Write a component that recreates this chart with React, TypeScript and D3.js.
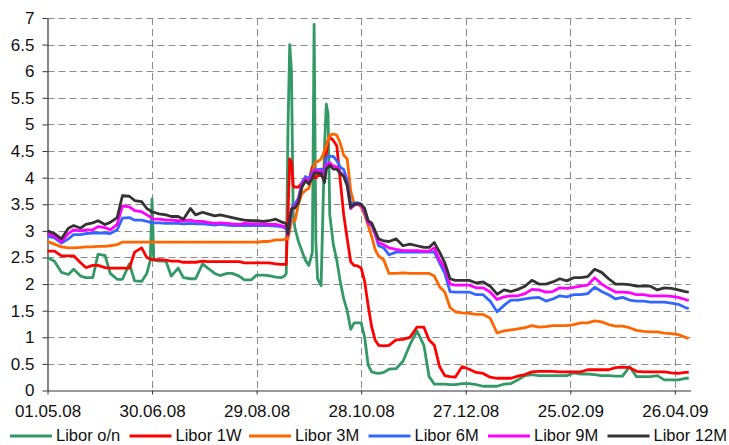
import * as React from 'react';
import { useEffect, useRef } from 'react';
import * as d3 from 'd3';

const WIDTH = 729;
const HEIGHT = 445;
const MARGINS = { top: 18, left: 47.5, bottom: 54.5, right: 38.5 };

// sample dates (dd.mm.yy), denser around the September/October 2008 spikes
const dates = [
    '01.05.08', '05.05.08', '09.05.08', '13.05.08', '16.05.08', '20.05.08', '23.05.08', '27.05.08', '30.05.08', '03.06.08',
    '06.06.08', '10.06.08', '13.06.08', '17.06.08', '20.06.08', '24.06.08', '27.06.08', '29.06.08', '30.06.08', '01.07.08',
    '04.07.08', '08.07.08', '11.07.08', '15.07.08', '18.07.08', '22.07.08', '25.07.08', '29.07.08', '01.08.08', '05.08.08',
    '08.08.08', '12.08.08', '15.08.08', '19.08.08', '22.08.08', '26.08.08', '29.08.08', '02.09.08', '05.09.08', '09.09.08',
    '12.09.08', '14.09.08',
    '15.09.08', '16.09.08', '17.09.08', '18.09.08', '19.09.08', '20.09.08', '22.09.08', '24.09.08', '26.09.08', '28.09.08',
    '30.09.08', '01.10.08', '02.10.08', '03.10.08', '05.10.08', '07.10.08', '08.10.08', '09.10.08', '10.10.08', '12.10.08',
    '14.10.08', '16.10.08', '18.10.08', '20.10.08', '22.10.08', '24.10.08', '26.10.08', '28.10.08', '30.10.08', '01.11.08',
    '03.11.08', '05.11.08', '07.11.08', '10.11.08',
    '13.11.08', '17.11.08', '21.11.08', '25.11.08', '29.11.08', '03.12.08', '06.12.08', '09.12.08', '12.12.08', '15.12.08',
    '18.12.08', '21.12.08', '25.12.08', '29.12.08', '02.01.09', '06.01.09', '10.01.09', '14.01.09', '18.01.09', '22.01.09',
    '26.01.09', '30.01.09', '03.02.09', '07.02.09', '11.02.09', '15.02.09', '19.02.09', '23.02.09', '27.02.09', '03.03.09',
    '07.03.09', '11.03.09', '15.03.09', '19.03.09', '23.03.09', '27.03.09', '31.03.09', '04.04.09', '08.04.09', '12.04.09',
    '16.04.09', '20.04.09', '24.04.09', '28.04.09', '02.05.09', '04.05.09'
];

const liborON = [
    2.5, 2.43, 2.22, 2.18, 2.28, 2.15, 2.12, 2.12, 2.56, 2.54, 2.2, 2.09,
    2.09, 2.38, 2.06, 2.05, 2.2, 2.45, 3.6, 2.45, 2.43, 2.43, 2.15, 2.3, 2.12, 2.1, 2.1,
    2.38, 2.3, 2.2, 2.16, 2.2, 2.2, 2.15, 2.08, 2.08, 2.17, 2.17, 2.16, 2.13, 2.12, 2.15,
    2.2, 4.9, 6.5, 6.0, 3.3, 3.05, 2.8, 2.62, 2.45, 2.35, 2.6, 6.88, 2.8, 2.1, 1.97, 4.6, 5.38,
    5.2, 3.3, 2.75, 2.45, 2.05, 1.72, 1.5, 1.15, 1.27, 1.27, 1.27, 1.0, 0.48, 0.35, 0.33, 0.32, 0.34,
    0.4, 0.41, 0.55, 0.86, 1.12, 0.85, 0.26, 0.12, 0.12, 0.12, 0.11, 0.11, 0.13, 0.13, 0.11, 0.08,
    0.08, 0.08, 0.12, 0.13, 0.2, 0.28, 0.3,
    0.28, 0.28, 0.28, 0.28, 0.28, 0.33, 0.31, 0.31, 0.3, 0.28, 0.28, 0.27, 0.27, 0.45, 0.26, 0.26,
    0.26, 0.28, 0.2, 0.2, 0.2, 0.23, 0.23
];

const libor1W = [
    2.62, 2.62, 2.53, 2.53, 2.53, 2.4, 2.31, 2.35, 2.35, 2.31, 2.3, 2.3,
    2.3, 2.3, 2.6, 2.68, 2.5, 2.47, 2.46, 2.46, 2.46, 2.45, 2.43, 2.43, 2.41, 2.41, 2.41,
    2.43, 2.42, 2.42, 2.42, 2.42, 2.42, 2.42, 2.4, 2.4, 2.4, 2.4, 2.4, 2.38, 2.37, 2.37,
    2.37, 3.3, 4.35, 4.3, 3.85, 3.82, 3.82, 3.9, 4.0, 3.95, 4.2, 4.0, 4.0, 4.04, 4.04, 4.2, 4.45,
    4.7, 4.76, 4.7, 4.6, 3.95, 3.3, 2.85, 2.42, 2.35, 2.34, 2.3, 2.05, 1.6, 1.2, 0.95, 0.85, 0.84,
    0.85, 0.95, 0.96, 1.0, 1.19, 1.19, 0.95, 0.85, 0.45, 0.28, 0.26, 0.25, 0.45, 0.4, 0.34, 0.32,
    0.25, 0.23, 0.23, 0.23, 0.27, 0.3, 0.35,
    0.36, 0.36, 0.36, 0.35, 0.35, 0.35, 0.35, 0.39, 0.39, 0.39, 0.39, 0.43, 0.44, 0.43, 0.36, 0.35,
    0.35, 0.35, 0.35, 0.33, 0.32, 0.34, 0.34
];

const libor3M = [
    2.8, 2.75, 2.7, 2.68, 2.68, 2.69, 2.7, 2.7, 2.71, 2.71, 2.72, 2.74,
    2.79, 2.79, 2.79, 2.79, 2.79, 2.79, 2.79, 2.79, 2.79, 2.79, 2.79, 2.79, 2.79, 2.79, 2.79,
    2.79, 2.79, 2.79, 2.79, 2.79, 2.79, 2.79, 2.79, 2.79, 2.79, 2.8, 2.8, 2.83, 2.83, 2.84,
    2.85, 2.86, 3.0, 3.19, 3.19, 3.19, 3.5, 3.7, 3.76, 3.8, 4.1, 4.22, 4.29, 4.3, 4.35, 4.5, 4.6,
    4.7, 4.8, 4.82, 4.8, 4.65, 4.42, 4.35, 3.75, 3.5, 3.5, 3.45, 3.3, 3.1, 2.9, 2.65, 2.53, 2.45,
    2.2, 2.2, 2.21, 2.2, 2.2, 2.2, 2.2, 2.15, 1.95, 1.85, 1.56, 1.48, 1.46, 1.45, 1.43, 1.43,
    1.36, 1.08, 1.12, 1.14, 1.16, 1.18, 1.22,
    1.19, 1.2, 1.22, 1.22, 1.22, 1.24, 1.27, 1.27, 1.31, 1.29, 1.24, 1.21, 1.21, 1.18, 1.13, 1.11,
    1.1, 1.1, 1.08, 1.07, 1.05, 1.0, 0.98
];

const libor6M = [
    2.9, 2.87, 2.77, 2.85, 2.93, 2.93, 2.95, 2.96, 2.96, 2.96, 2.95, 3.02,
    3.24, 3.25, 3.2, 3.2, 3.18, 3.16, 3.15, 3.15, 3.15, 3.14, 3.14, 3.14, 3.13, 3.14, 3.13,
    3.13, 3.12, 3.11, 3.12, 3.11, 3.1, 3.1, 3.1, 3.1, 3.1, 3.1, 3.1, 3.09, 3.08, 3.06,
    3.03, 2.95, 3.12, 3.4, 3.48, 3.5, 3.62, 3.9, 4.02, 3.98, 4.1, 4.15, 4.15, 4.15, 4.16, 4.1, 4.38,
    4.4, 4.4, 4.4, 4.32, 4.2, 4.15, 3.95, 3.5, 3.52, 3.53, 3.5, 3.35, 3.15, 3.1, 2.95, 2.72, 2.68,
    2.55, 2.6, 2.6, 2.6, 2.6, 2.6, 2.6, 2.6, 2.4, 2.2, 1.86, 1.85, 1.85, 1.85, 1.8, 1.8,
    1.68, 1.48, 1.6, 1.7, 1.7, 1.72, 1.74,
    1.75, 1.68, 1.72, 1.78, 1.76, 1.8, 1.8, 1.82, 1.94, 1.86, 1.8, 1.72, 1.75, 1.7, 1.68, 1.68,
    1.66, 1.66, 1.66, 1.64, 1.62, 1.56, 1.54
];

const libor9M = [
    2.95, 2.9, 2.8, 2.95, 3.02, 3.0, 3.02, 3.02, 3.08, 3.06, 3.02, 3.12,
    3.47, 3.45, 3.38, 3.36, 3.3, 3.26, 3.24, 3.22, 3.22, 3.2, 3.2, 3.19, 3.19, 3.2, 3.18,
    3.18, 3.16, 3.14, 3.15, 3.14, 3.13, 3.12, 3.14, 3.13, 3.13, 3.13, 3.12, 3.12, 3.1, 3.08,
    3.06, 2.92, 3.15, 3.38, 3.45, 3.45, 3.58, 3.86, 3.98, 3.92, 4.05, 4.12, 4.14, 4.12, 4.12, 3.98, 4.22,
    4.26, 4.28, 4.22, 4.2, 4.1, 4.04, 3.86, 3.42, 3.48, 3.5, 3.48, 3.38, 3.15, 3.12, 2.95, 2.78, 2.74,
    2.68, 2.65, 2.63, 2.63, 2.63, 2.62, 2.62, 2.68, 2.45, 2.3, 2.0, 1.98, 1.98, 1.98, 1.93, 1.93,
    1.85, 1.71, 1.76, 1.78, 1.78, 1.82, 1.9,
    1.89, 1.85, 1.86, 1.93, 1.92, 1.94, 1.96, 1.98, 2.12, 2.0, 1.92, 1.85, 1.85, 1.84, 1.8, 1.8,
    1.78, 1.78, 1.78, 1.77, 1.75, 1.71, 1.69
];

const libor12M = [
    3.0, 2.95, 2.85, 3.05, 3.1, 3.05, 3.12, 3.15, 3.19, 3.12, 3.16, 3.25,
    3.66, 3.65, 3.57, 3.55, 3.42, 3.38, 3.35, 3.35, 3.32, 3.3, 3.27, 3.27, 3.22, 3.42, 3.3,
    3.35, 3.32, 3.28, 3.3, 3.27, 3.25, 3.22, 3.2, 3.19, 3.19, 3.18, 3.19, 3.22, 3.17, 3.15,
    3.13, 2.94, 3.2, 3.41, 3.43, 3.43, 3.53, 3.82, 3.94, 3.88, 4.0, 4.08, 4.1, 4.08, 4.08, 3.91, 4.16,
    4.2, 4.23, 4.16, 4.16, 4.08, 4.02, 3.85, 3.44, 3.5, 3.51, 3.5, 3.42, 3.19, 3.15, 3.0, 2.85, 2.81,
    2.8, 2.85, 2.72, 2.75, 2.72, 2.69, 2.69, 2.78, 2.6, 2.4, 2.1, 2.07, 2.07, 2.07, 2.02, 2.04,
    1.96, 1.81, 1.89, 1.86, 1.9, 1.96, 2.07,
    2.0, 2.0, 2.04, 2.1, 2.06, 2.12, 2.12, 2.14, 2.28, 2.22, 2.1, 2.0, 2.0, 1.99, 1.96, 1.96,
    1.96, 1.89, 1.93, 1.92, 1.89, 1.86, 1.85
];

const seriesNames = ['Libor o/n', 'Libor 1W', 'Libor 3M', 'Libor 6M', 'Libor 9M', 'Libor 12M'];
const seriesColors = ['#339966', '#ff0000', '#ff6600', '#3366ff', '#ff00ff', '#333333'];
const seriesValues = [liborON, libor1W, libor3M, libor6M, libor9M, libor12M];

const xTickLabels = ['01.05.08', '30.06.08', '29.08.08', '28.10.08', '27.12.08', '25.02.09', '26.04.09'];
const xDomainLabels = ['01.05.08', '05.05.09'];
const yTicks = [0, 0.5, 1, 1.5, 2, 2.5, 3, 3.5, 4, 4.5, 5, 5.5, 6, 6.5, 7];

const FONT = '"Liberation Sans", Arial, sans-serif';

export default function App() {
    const ref = useRef<SVGSVGElement>(null);

    useEffect(() => {
        const svg = d3.select(ref.current);
        svg.selectAll('*').remove();

        const parse = d3.timeParse('%d.%m.%y');
        const left = MARGINS.left;
        const right = WIDTH - MARGINS.right;
        const top = MARGINS.top;
        const bottom = HEIGHT - MARGINS.bottom;

        const xScale = d3.scaleTime()
            .domain(xDomainLabels.map(d => parse(d) as Date))
            .range([left, right]);
        const yScale = d3.scaleLinear()
            .domain([0, 7])
            .range([bottom, top]);

        // GRID LINES
        const grid = svg.append('g').attr('class', 'grid');
        grid.selectAll('line.h')
            .data(yTicks.filter(t => t > 0))
            .enter().append('line')
            .attr('class', 'h')
            .attr('x1', left).attr('x2', right)
            .attr('y1', d => Math.round(yScale(d)) + 0.5)
            .attr('y2', d => Math.round(yScale(d)) + 0.5)
            .attr('stroke', '#8c8c8c')
            .attr('stroke-dasharray', '7,4');
        grid.selectAll('line.v')
            .data(xTickLabels.slice(1))
            .enter().append('line')
            .attr('class', 'v')
            .attr('x1', d => Math.round(xScale(parse(d) as Date)) + 0.5)
            .attr('x2', d => Math.round(xScale(parse(d) as Date)) + 0.5)
            .attr('y1', top).attr('y2', bottom)
            .attr('stroke', '#8c8c8c')
            .attr('stroke-dasharray', '7,4');

        // AXES
        const yAxisGroup = svg.append('g')
            .attr('transform', 'translate(' + left + ',0)')
            .call(d3.axisLeft(yScale).tickValues(yTicks).tickSizeInner(5).tickSizeOuter(0)
                .tickFormat(d => String(d)));
        const xAxisGroup = svg.append('g')
            .attr('transform', 'translate(0,' + bottom + ')')
            .call(d3.axisBottom(xScale)
                .tickValues(xTickLabels.map(d => parse(d) as Date))
                .tickSizeInner(4).tickSizeOuter(0)
                .tickFormat(d3.timeFormat('%d.%m.%y') as any));

        [yAxisGroup, xAxisGroup].forEach(g => {
            g.select('.domain').attr('stroke', '#333').attr('stroke-width', 1.2);
            g.selectAll('.tick line').attr('stroke', '#333');
            g.selectAll('.tick text')
                .attr('fill', '#111')
                .style('font-family', FONT)
                .style('font-size', '17px');
        });
        yAxisGroup.selectAll('.tick text').attr('x', -13);
        xAxisGroup.selectAll('.tick text').attr('y', 14);

        // SERIES
        const line = d3.line<number>()
            .x((d, i) => xScale(parse(dates[i]) as Date))
            .y(d => yScale(d));

        seriesValues.forEach((values, k) => {
            svg.append('path')
                .attr('d', line(values) as string)
                .attr('fill', 'none')
                .attr('stroke', seriesColors[k])
                .attr('stroke-width', 2.8)
                .attr('stroke-linejoin', 'round');
        });

        // LEGEND
        const legend = svg.append('g').attr('class', 'legend');
        seriesNames.forEach((name, k) => {
            const lx = 10 + k * 119.5;
            legend.append('line')
                .attr('x1', lx).attr('x2', lx + 42)
                .attr('y1', 436).attr('y2', 436)
                .attr('stroke', seriesColors[k])
                .attr('stroke-width', 3);
            legend.append('text')
                .attr('x', lx + 46).attr('y', 441)
                .attr('fill', '#111')
                .style('font-family', FONT)
                .style('font-size', '16.5px')
                .text(name);
        });
    }, []);

    return (
        <div style={{ position: 'absolute', left: 0, top: 0, width: WIDTH, height: HEIGHT, background: '#fff' }}>
            <svg ref={ref} width={WIDTH} height={HEIGHT} />
        </div>
    );
}
